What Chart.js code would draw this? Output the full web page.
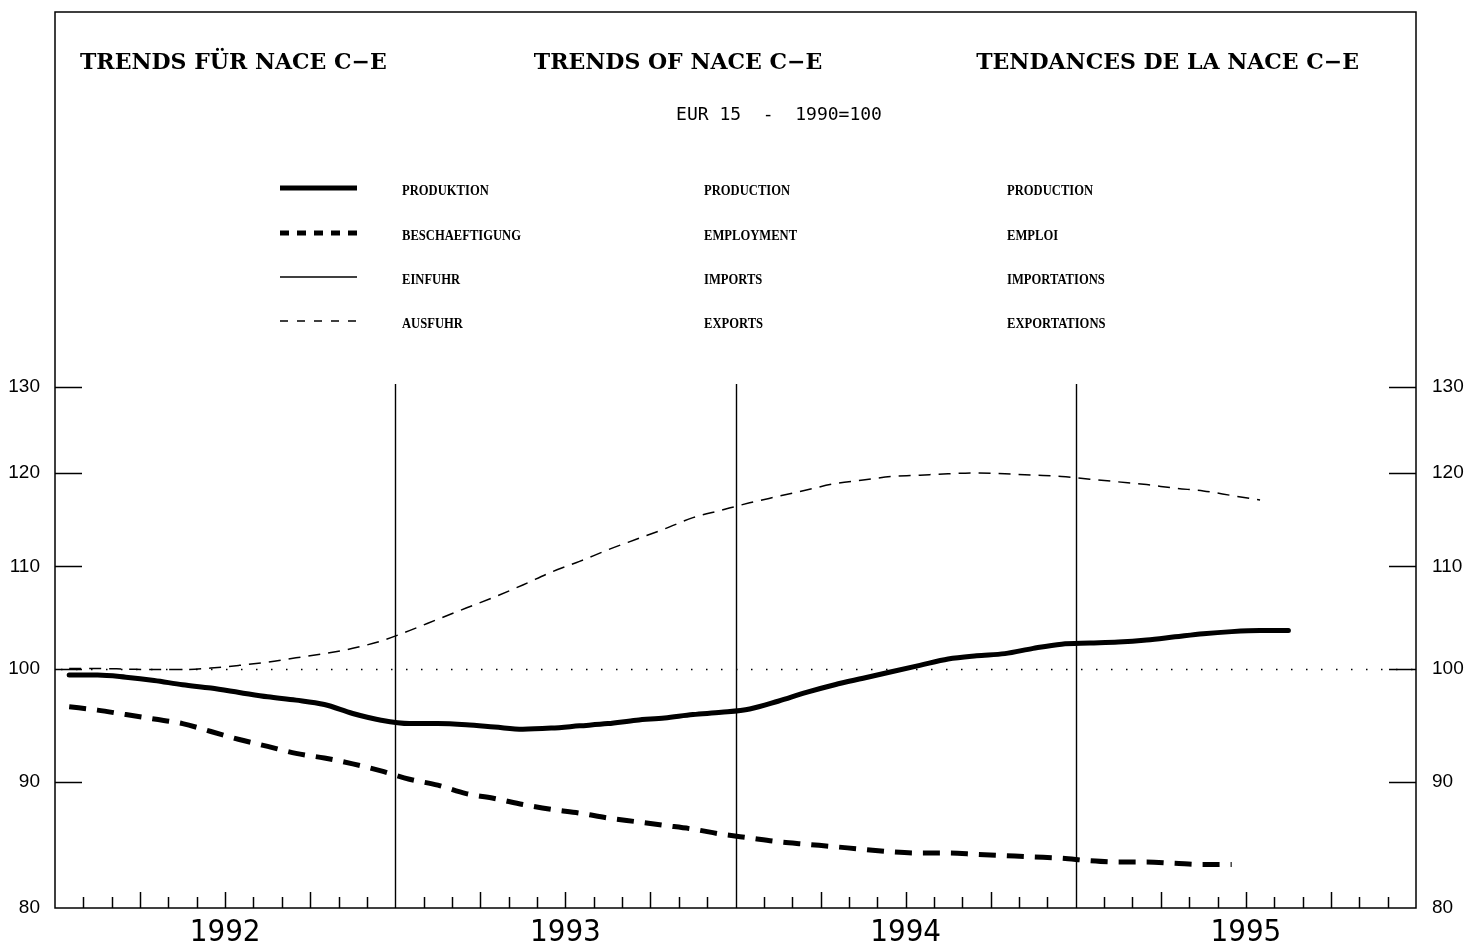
<!DOCTYPE html>
<html>
<head>
<meta charset="utf-8">
<script src="https://cdn.jsdelivr.net/npm/chart.js@4.4.1/dist/chart.umd.min.js"></script>
<style>
html,body{margin:0;padding:0;background:#fff;}
#wrap{width:1464px;height:947px;position:relative;}
canvas{display:block;}
</style>
</head>
<body>
<div id="wrap"><canvas id="c" width="1464" height="947"></canvas></div>
<script>
// ---------- data ----------
const years = ['1992', '1993', '1994', '1995'];
const monthsPerYear = 12;
const yTicks = [80, 90, 100, 110, 120, 130];
const baseValue = 100;

const titles = ['TRENDS FÜR NACE C\u2212E', 'TRENDS OF NACE C\u2212E', 'TENDANCES DE LA NACE C\u2212E'];
const subtitle = 'EUR 15  -  1990=100';
const legendDE = ['PRODUKTION', 'BESCHAEFTIGUNG', 'EINFUHR', 'AUSFUHR'];
const legendEN = ['PRODUCTION', 'EMPLOYMENT', 'IMPORTS', 'EXPORTS'];
const legendFR = ['PRODUCTION', 'EMPLOI', 'IMPORTATIONS', 'EXPORTATIONS'];

// monthly values from Jan 1992
const production = [
  99.4, 99.4, 99.2, 98.9, 98.5, 98.2, 97.8, 97.4, 97.1, 96.7, 95.9, 95.3,
  95.0, 95.0, 94.9, 94.7, 94.5, 94.6, 94.8, 95.0, 95.3, 95.5, 95.8, 96.0,
  96.3, 97.0, 97.8, 98.5, 99.1, 99.7, 100.3, 100.9, 101.2, 101.4, 101.9, 102.3,
  102.4, 102.5, 102.7, 103.0, 103.3, 103.5, 103.6, 103.6
];
const employment = [
  96.5, 96.2, 95.8, 95.4, 95.0, 94.3, 93.6, 93.0, 92.4, 92.0, 91.5, 90.9,
  90.2, 89.7, 89.0, 88.6, 88.1, 87.7, 87.4, 87.0, 86.7, 86.4, 86.1, 85.7,
  85.4, 85.1, 84.9, 84.7, 84.5, 84.3, 84.2, 84.2, 84.1, 84.0, 83.9, 83.8,
  83.6, 83.5, 83.5, 83.4, 83.3, 83.3
];
const imports = [];
const exportsSeries = [
  100.0, 100.0, 99.95, 99.9, 99.9, 100.05, 100.3, 100.6, 101.0, 101.4, 101.9, 102.6,
  103.6, 104.7, 105.8, 106.9, 108.1, 109.4, 110.5, 111.7, 112.8, 113.9, 115.1, 115.9,
  116.7, 117.4, 118.1, 118.8, 119.2, 119.6, 119.75, 119.9, 120.0, 119.9, 119.75, 119.6,
  119.3, 119.0, 118.7, 118.3, 118.0, 117.5, 117.0
];

// ---------- styles / layout ----------
const FRAME_TOP = 12;
const TITLE_Y = 63;
const SUBTITLE_Y = 115;
const LEGEND_ROWS_Y = [188, 233, 277, 321];
const LEGEND_SAMPLE_X = [280, 357];
const LEGEND_TEXT_X = [402, 704, 1007];
const TITLE_FONT = 'bold 22px "DejaVu Serif", serif';
const SUB_FONT = '18px "DejaVu Sans Mono", monospace';
const LEGEND_FONT = 'bold 15px "Liberation Serif", serif';
const LEGEND_SCALE_X = 0.84;

const toPoints = arr => arr.map((v, i) => ({ x: i + 0.5, y: v }));

const decor = {
  id: 'decor',
  beforeDraw(chart) {
    const c = chart.ctx;
    c.save();
    c.fillStyle = '#fff';
    c.fillRect(0, 0, chart.width, chart.height);
    c.restore();
  },
  beforeDatasetsDraw(chart) {
    const c = chart.ctx, ca = chart.chartArea;
    const xs = chart.scales.x, ys = chart.scales.y;
    c.save();
    c.strokeStyle = '#000';
    c.lineCap = 'butt';
    // frame
    c.lineWidth = 1.5;
    c.strokeRect(ca.left, FRAME_TOP, ca.right - ca.left, ca.bottom - FRAME_TOP);
    // year separators
    c.lineWidth = 1.4;
    for (let k = 1; k < years.length; k++) {
      const x = Math.round(xs.getPixelForValue(k * monthsPerYear)) + 0.5;
      c.beginPath(); c.moveTo(x, ca.top - 3); c.lineTo(x, ca.bottom); c.stroke();
    }
    // month ticks (inward)
    c.lineWidth = 1.5;
    const nM = years.length * monthsPerYear;
    for (let m = 1; m < nM; m++) {
      if (m % monthsPerYear === 0) continue;
      const len = (m % 3 === 0) ? 16 : 11;
      const x = Math.round(xs.getPixelForValue(m)) + 0.5;
      c.beginPath(); c.moveTo(x, ca.bottom); c.lineTo(x, ca.bottom - len); c.stroke();
    }
    // y ticks (inward both sides)
    yTicks.forEach(v => {
      if (v === yTicks[0]) return;
      const y = Math.round(ys.getPixelForValue(v)) + 0.5;
      c.beginPath(); c.moveTo(ca.left, y); c.lineTo(ca.left + 27, y); c.stroke();
      c.beginPath(); c.moveTo(ca.right - 27, y); c.lineTo(ca.right, y); c.stroke();
    });
    // dotted base line
    const yb = Math.round(ys.getPixelForValue(baseValue)) + 0.5;
    c.setLineDash([1.5, 13.5]);
    c.lineWidth = 1.5;
    c.beginPath(); c.moveTo(ca.left + 6, yb); c.lineTo(ca.right, yb); c.stroke();
    c.setLineDash([]);

    // titles
    c.fillStyle = '#000';
    c.font = TITLE_FONT;
    c.textBaseline = 'middle';
    c.textAlign = 'left';  c.fillText(titles[0], 80, TITLE_Y);
    c.textAlign = 'center'; c.fillText(titles[1], 678, TITLE_Y);
    c.textAlign = 'right'; c.fillText(titles[2], 1359, TITLE_Y);
    // subtitle
    c.font = SUB_FONT;
    c.textAlign = 'center';
    c.fillText(subtitle, 779, SUBTITLE_Y);

    // legend
    const sampleStyles = [
      { w: 5, dash: [] },
      { w: 5, dash: [9, 8] },
      { w: 1.3, dash: [] },
      { w: 1.3, dash: [8, 9] }
    ];
    c.textAlign = 'left';
    c.font = LEGEND_FONT;
    LEGEND_ROWS_Y.forEach((y, i) => {
      const st = sampleStyles[i];
      c.lineWidth = st.w;
      c.setLineDash(st.dash);
      c.beginPath(); c.moveTo(LEGEND_SAMPLE_X[0], y); c.lineTo(LEGEND_SAMPLE_X[1], y); c.stroke();
      c.setLineDash([]);
      [legendDE[i], legendEN[i], legendFR[i]].forEach((txt, j) => {
        c.save();
        c.translate(LEGEND_TEXT_X[j], y + 3);
        c.scale(LEGEND_SCALE_X, 1);
        c.fillText(txt, 0, 0);
        c.restore();
      });
    });
    c.restore();
  }
};

const yAxisCommon = {
  type: 'logarithmic',
  min: yTicks[0],
  max: yTicks[yTicks.length - 1],
  afterBuildTicks: s => { s.ticks = yTicks.map(v => ({ value: v })); },
  grid: { display: false, drawTicks: false },
  border: { display: false },
};

new Chart(document.getElementById('c'), {
  type: 'line',
  data: {
    datasets: [
      { label: legendEN[0], data: toPoints(production), borderColor: '#000', borderWidth: 5,
        borderCapStyle: 'round', borderJoinStyle: 'round', pointRadius: 0,
        cubicInterpolationMode: 'monotone', fill: false },
      { label: legendEN[1], data: toPoints(employment), borderColor: '#000', borderWidth: 5,
        borderDash: [17, 11], pointRadius: 0, cubicInterpolationMode: 'monotone', fill: false },
      { label: legendEN[2], data: toPoints(imports), borderColor: '#000', borderWidth: 1.3,
        pointRadius: 0, fill: false },
      { label: legendEN[3], data: toPoints(exportsSeries), borderColor: '#000', borderWidth: 1.5,
        borderDash: [12, 8], pointRadius: 0, cubicInterpolationMode: 'monotone', fill: false }
    ]
  },
  options: {
    responsive: false,
    animation: false,
    events: [],
    layout: { padding: { top: 387, left: 0, right: 0, bottom: 0 } },
    plugins: { legend: { display: false }, tooltip: { enabled: false }, title: { display: false } },
    scales: {
      x: {
        type: 'linear', position: 'bottom',
        min: 0, max: years.length * monthsPerYear,
        afterBuildTicks: s => { s.ticks = years.map((y, i) => ({ value: i * monthsPerYear + monthsPerYear / 2 })); },
        afterFit: s => { s.height = 39; },
        grid: { display: false, drawTicks: false },
        border: { display: false },
        ticks: {
          autoSkip: false, maxRotation: 0, color: '#000', padding: 6,
          font: { family: '"Liberation Sans Narrow", "DejaVu Sans Condensed", "Liberation Sans", sans-serif', size: 31 },
          callback: (v) => years[Math.floor(v / monthsPerYear)]
        }
      },
      y: Object.assign({}, yAxisCommon, {
        position: 'left',
        afterFit: s => { s.width = 55; },
        ticks: { autoSkip: false, color: '#000', padding: 15,
          font: { family: '"Liberation Sans", sans-serif', size: 19 },
          callback: v => String(v) }
      }),
      y2: Object.assign({}, yAxisCommon, {
        position: 'right',
        afterFit: s => { s.width = 48; },
        ticks: { autoSkip: false, color: '#000', padding: 16,
          font: { family: '"Liberation Sans", sans-serif', size: 19 },
          callback: v => String(v) }
      })
    }
  },
  plugins: [decor]
});
</script>
</body>
</html>
